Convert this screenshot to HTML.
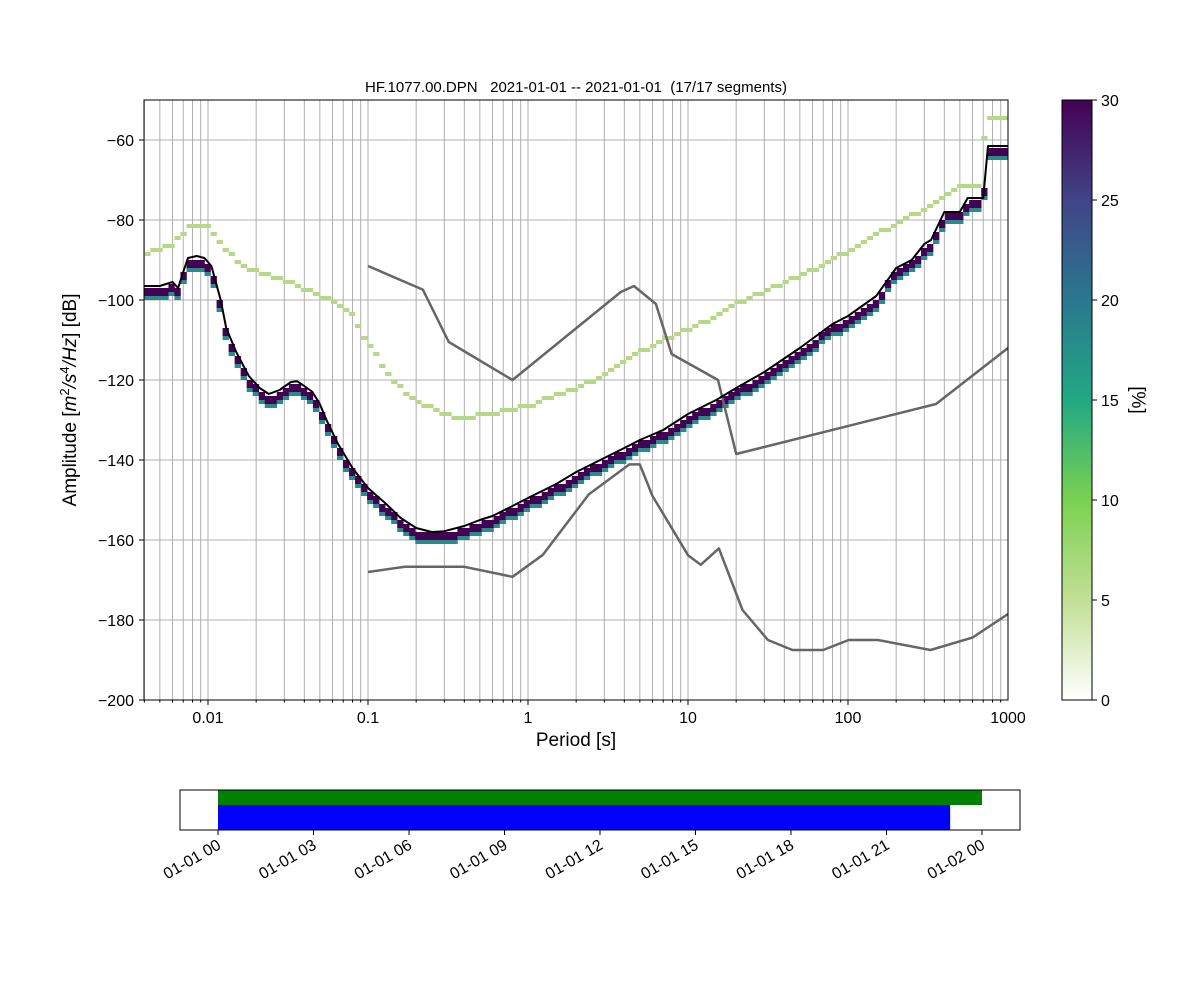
<!DOCTYPE html>
<html><head><meta charset="utf-8"><style>
body{margin:0;background:#fff;}
svg text{font-family:"Liberation Sans","DejaVu Sans",sans-serif;fill:#000;white-space:pre;}
</style></head><body>
<svg id="c" width="1200" height="1000" viewBox="0 0 1200 1000" xmlns="http://www.w3.org/2000/svg">
<defs><linearGradient id="cb" x1="0" y1="1" x2="0" y2="0">
<stop offset="0" stop-color="#ffffff"/><stop offset="0.1667" stop-color="#c2df96"/><stop offset="0.3333" stop-color="#7ad151"/><stop offset="0.5" stop-color="#22a884"/><stop offset="0.6667" stop-color="#2a788e"/><stop offset="0.8333" stop-color="#414487"/><stop offset="1" stop-color="#440154"/></linearGradient>
<clipPath id="pc"><rect x="144" y="100" width="864" height="600"/></clipPath></defs>
<g id="grid"></g>
<g id="heat" clip-path="url(#pc)"></g>
<g id="lines" clip-path="url(#pc)"></g>
<rect x="144" y="100" width="864" height="600" fill="none" stroke="#000" stroke-width="1"/>
<g id="axes"></g>
<text x="576" y="92" font-size="15" text-anchor="middle" xml:space="preserve">HF.1077.00.DPN   2021-01-01 -- 2021-01-01  (17/17 segments)</text>
<text x="576" y="746" font-size="19" text-anchor="middle">Period [s]</text>
<text transform="translate(76,400) rotate(-90)" font-size="19" text-anchor="middle">Amplitude [<tspan font-style="italic">m</tspan><tspan font-size="13" dy="-7">2</tspan><tspan dy="7" font-style="italic">/s</tspan><tspan font-size="13" dy="-7">4</tspan><tspan dy="7" font-style="italic">/Hz</tspan>] [dB]</text>
<rect x="1062" y="100" width="30" height="600" fill="url(#cb)" stroke="#000"/>
<g id="cbax"></g>
<text transform="translate(1132,400) rotate(90)" font-size="19" text-anchor="middle">[%]</text>
<g id="time"></g>
</svg>
<script>
const meanP=[0.004,0.005,0.006,0.0065,0.007,0.0075,0.0085,0.0095,0.0105,0.012,0.013,0.015,0.018,0.021,0.024,0.028,0.033,0.036,0.04,0.045,0.05,0.055,0.065,0.08,0.1,0.13,0.16,0.2,0.25,0.3,0.4,0.5,0.6,0.8,1,1.5,2,3,4,5,7,10,15,20,30,50,80,100,150,200,250,300,330,400,500,560,700,750,1000];
const meanV=[-96.5,-96.5,-95.5,-97,-93,-89.5,-89,-89.5,-91.5,-100,-107,-113,-119,-122,-123.5,-122.5,-120.5,-120.3,-121.5,-123,-126,-130,-136,-142,-147,-151,-154.5,-157,-158,-157.8,-156.5,-155,-154,-151.5,-149.5,-146,-143,-139.5,-137,-135,-132.5,-128.5,-125,-122,-118,-112,-106,-104,-99,-92,-90,-86,-85,-78,-78,-74.5,-74.5,-61.5,-61.5];
const maxP=[0.004,0.006,0.008,0.01,0.012,0.015,0.02,0.03,0.04,0.06,0.08,0.1,0.15,0.2,0.3,0.35,0.6,1,2,3,5,7,10,15,20,30,50,80,120,160,200,250,300,400,500,680,720,1000];
const maxV=[-88.5,-86,-81,-81.5,-86,-90,-93,-95,-97.5,-100,-104,-111,-121,-125,-128.5,-129.5,-128.5,-126.5,-122,-119,-113,-110,-107.5,-104,-101,-98,-94,-90,-86,-83,-81,-79,-77,-74,-72,-72,-55,-55];
const hnmP=[0.1,0.22,0.32,0.8,3.8,4.6,6.3,7.9,15.4,20,354.8,1000];
const hnmV=[-91.5,-97.4,-110.5,-120,-98,-96.5,-101,-113.5,-120,-138.5,-126,-112];
const lnmP=[0.1,0.17,0.4,0.8,1.24,2.4,4.3,5,6,10,12,15.6,21.9,31.6,45,70,101,154,328,600,1000];
const lnmV=[-168,-166.7,-166.7,-169.2,-163.7,-148.6,-141.1,-141.1,-149,-163.8,-166.2,-162.1,-177.5,-185,-187.5,-187.5,-185,-185,-187.5,-184.4,-178.5];
const yTicks=[-200,-180,-160,-140,-120,-100,-80,-60];
const xTicks=[0.01,0.1,1,10,100,1000];
const xTickLabels=["0.01","0.1","1","10","100","1000"];
const cbTicks=[0,5,10,15,20,25,30];
const timeLabels=["01-01 00","01-01 03","01-01 06","01-01 09","01-01 12","01-01 15","01-01 18","01-01 21","01-02 00"];
const timeHours=[0,3,6,9,12,15,18,21,24];
const segGreen=[0,24];
const segBlue=[0,23];

const NS="http://www.w3.org/2000/svg";
const X=p=>528+Math.log10(p)*160;
const Y=d=>700-(d+200)*4;
const TX=h=>218+h*(764/24);
function mk(tag,at,par){const e=document.createElementNS(NS,tag);for(const k in at)e.setAttribute(k,at[k]);par.appendChild(e);return e;}
function interp(P,V,p){const l=Math.log10(p);for(let i=0;i<P.length-1;i++){const a=Math.log10(P[i]),b=Math.log10(P[i+1]);if(l>=a&&l<=b)return V[i]+(V[i+1]-V[i])*(l-a)/(b-a);}return l<Math.log10(P[0])?V[0]:V[V.length-1];}
const grid=document.getElementById('grid'),heat=document.getElementById('heat'),lines=document.getElementById('lines'),axes=document.getElementById('axes');
for(let d=-3;d<3;d++)for(let k=1;k<10;k++){const p=k*Math.pow(10,d);const x=X(p);if(x<144||x>1008)continue;
const l=mk('line',{x1:x,x2:x,y1:100,y2:700,stroke:'#b0b0b0','stroke-width':1},grid);

const t=mk('line',{x1:x,x2:x,y1:700,y2:k==1?705:702.5,stroke:'#000'},axes);
}
yTicks.forEach(v=>{const y=Y(v);const l=mk('line',{x1:144,x2:1008,y1:y,y2:y,stroke:'#b0b0b0'},grid);

mk('line',{x1:139,x2:144,y1:y,y2:y,stroke:'#000'},axes);
const t=mk('text',{x:134,y:y+6,'font-size':16,'text-anchor':'end'},axes);t.textContent='\u2212'+Math.abs(v);
});
xTicks.forEach((p,i)=>{const t=mk('text',{x:X(p),y:723,'font-size':16,'text-anchor':'middle'},axes);t.textContent=xTickLabels[i];
});
const step=Math.pow(2,1/8);
for(let p=0.004;p<1000;p*=step){const pc=p*Math.sqrt(step);const m=interp(meanP,meanV,pc),mx=interp(maxP,maxV,pc);
const x0=X(p),w=X(p*step)-x0;
const r=Math.floor(m)-1;
const cells=[[r,'#440154'],[r-1,'#440154'],[r-2,'#2a8a8c'],[Math.floor(mx),'#b5d989']];
cells.forEach(c=>{const e=mk('rect',{x:x0,y:Y(c[0]+1),width:w+0.3,height:4,fill:c[1]},heat);
});}
function poly(P,V,st,sw,name){const d=P.map((p,i)=>(i?'L':'M')+X(p).toFixed(1)+','+Y(V[i]).toFixed(1)).join('');
const e=mk('path',{d:d,fill:'none',stroke:st,'stroke-width':sw,'stroke-linejoin':'round'},lines);
}
poly(hnmP,hnmV,'#666',2.5,'nhnm-line');
poly(lnmP,lnmV,'#666',2.5,'nlnm-line');
poly(meanP,meanV,'#000',2,'mean-line');
const cbax=document.getElementById('cbax');
cbTicks.forEach(v=>{const y=700-v*20;mk('line',{x1:1092,x2:1097,y1:y,y2:y,stroke:'#000'},cbax);
const t=mk('text',{x:1101,y:y+6,'font-size':16},cbax);t.textContent=v;
});
const tg=document.getElementById('time');
let e=mk('rect',{x:TX(segGreen[0]),y:790,width:TX(segGreen[1])-TX(segGreen[0]),height:15,fill:'#008000'},tg);

e=mk('rect',{x:TX(segBlue[0]),y:805,width:TX(segBlue[1])-TX(segBlue[0]),height:25,fill:'#0000ff'},tg);

e=mk('rect',{x:180,y:790,width:840,height:40,fill:'none',stroke:'#000'},tg);

timeHours.forEach((h,i)=>{const x=TX(h);mk('line',{x1:x,x2:x,y1:830,y2:835,stroke:'#000'},tg);
const t=mk('text',{x:x+4,y:848,'font-size':16,'text-anchor':'end',transform:'rotate(-30 '+(x+4)+' 848)'},tg);t.textContent=timeLabels[i];
});
</script>
</body></html>
